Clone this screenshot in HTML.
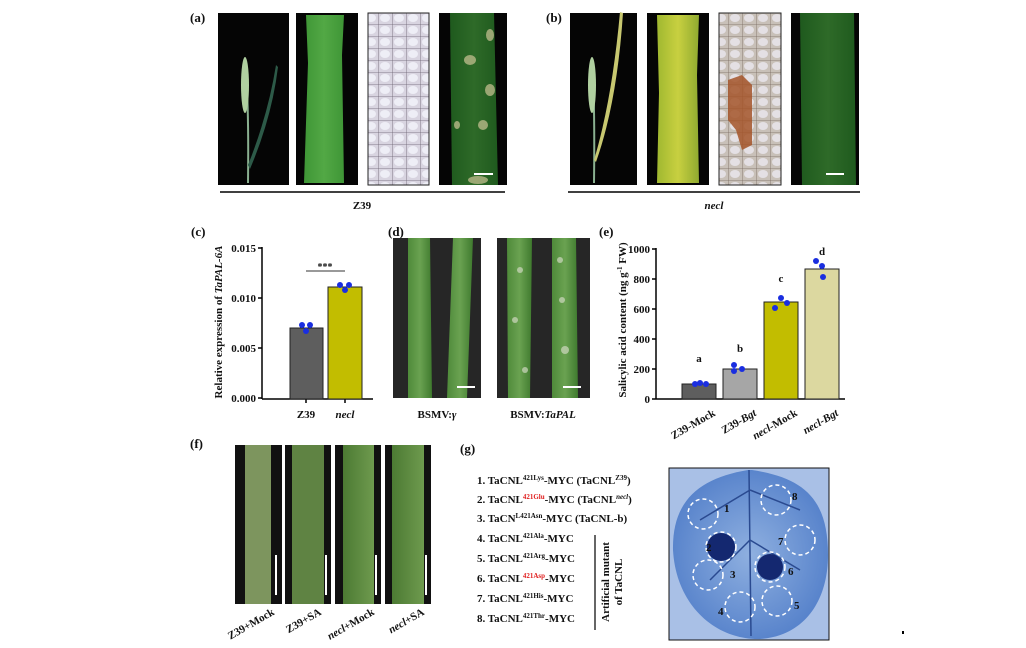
<!DOCTYPE html>
<html><head><meta charset="utf-8"><style>
html,body{margin:0;padding:0;background:#fff}
svg{display:block}
text{font-family:"Liberation Serif",serif;font-weight:bold;fill:#111}
</style></head><body>
<svg width="1026" height="648" viewBox="0 0 1026 648" xmlns="http://www.w3.org/2000/svg">
<defs>
<linearGradient id="leaf" x1="0" x2="1"><stop offset="0" stop-color="#4f8a3a"/><stop offset=".5" stop-color="#6aa251"/><stop offset="1" stop-color="#3f7a2e"/></linearGradient>
<linearGradient id="gleaf" x1="0" x2="1"><stop offset="0" stop-color="#3f9636"/><stop offset=".5" stop-color="#52a845"/><stop offset="1" stop-color="#3f9636"/></linearGradient>
<linearGradient id="yleaf" x1="0" x2="1"><stop offset="0" stop-color="#a0b830"/><stop offset=".5" stop-color="#c8d040"/><stop offset="1" stop-color="#90aa30"/></linearGradient>
<linearGradient id="dleaf" x1="0" x2="1"><stop offset="0" stop-color="#1f5a1e"/><stop offset=".5" stop-color="#2e6a28"/><stop offset="1" stop-color="#1f5a1e"/></linearGradient>
<linearGradient id="fleaf" x1="0" x2="1"><stop offset="0" stop-color="#4c7a33"/><stop offset="1" stop-color="#6e9a4e"/></linearGradient>
<radialGradient id="blue" cx=".5" cy=".5" r=".6"><stop offset="0" stop-color="#8fb0e0"/><stop offset="1" stop-color="#4f7cc8"/></radialGradient>
<pattern id="cells" width="14" height="12" patternUnits="userSpaceOnUse"><rect width="14" height="12" fill="#d8d4e0"/><ellipse cx="7" cy="6" rx="5" ry="4" fill="#eeeef6"/><path d="M0 0 H14 M0 0 V12" stroke="#6a6070" stroke-width=".8"/></pattern>
<pattern id="cells2" width="14" height="12" patternUnits="userSpaceOnUse"><rect width="14" height="12" fill="#c8c0b8"/><ellipse cx="7" cy="6" rx="5" ry="4" fill="#e4e0e4"/><path d="M0 0 H14 M0 0 V12" stroke="#7a6a60" stroke-width=".8"/></pattern>
</defs>

<!-- (a) -->
<text x="190" y="22" font-size="13">(a)</text>
<rect x="218" y="13" width="71" height="172" fill="#050505"/>
<path d="M244 60 q4 40 3 123 l2 0 q1 -83 -3 -123z" fill="#8ab090"/>
<ellipse cx="245" cy="85" rx="4" ry="28" fill="#b0d0a0"/>
<path d="M248 165 q20 -50 28 -100 l2 2 q-6 50 -28 102z" fill="#2d5a48"/>
<rect x="296" y="13" width="62" height="172" fill="#050505"/>
<path d="M306 15 h38 l-2 40 l2 128 h-40 l4 -120z" fill="url(#gleaf)"/>
<rect x="368" y="13" width="61" height="172" fill="url(#cells)" stroke="#222"/>
<rect x="439" y="13" width="68" height="172" fill="#050505"/>
<path d="M450 13 h44 l4 172 h-46z" fill="url(#dleaf)"/>
<g fill="#b8b888" opacity=".8"><ellipse cx="470" cy="60" rx="6" ry="5"/><ellipse cx="490" cy="90" rx="5" ry="6"/><ellipse cx="483" cy="125" rx="5" ry="5"/><ellipse cx="457" cy="125" rx="3" ry="4"/><ellipse cx="490" cy="35" rx="4" ry="6"/><ellipse cx="478" cy="180" rx="10" ry="4"/></g>
<rect x="474" y="173" width="19" height="2" fill="#fff"/>
<line x1="220" y1="192" x2="505" y2="192" stroke="#000" stroke-width="1.5"/>
<text x="362" y="209" font-size="11" text-anchor="middle">Z39</text>

<!-- (b) -->
<text x="546" y="22" font-size="13">(b)</text>
<rect x="570" y="13" width="67" height="172" fill="#050505"/>
<path d="M591 60 q3 40 2 123 l2 0 q1 -83 -2 -123z" fill="#8ab090"/>
<ellipse cx="592" cy="85" rx="4" ry="28" fill="#b0d0a0"/>
<path d="M594 160 q18 -60 26 -148 l3 1 q-6 90 -27 149z" fill="#c8c870"/>
<rect x="647" y="13" width="62" height="172" fill="#050505"/>
<path d="M657 15 h42 l-2 60 l2 108 h-42 l2 -90z" fill="url(#yleaf)"/>
<rect x="719" y="13" width="62" height="172" fill="url(#cells2)" stroke="#222"/>
<path d="M728 80 l14 -5 l10 10 l0 60 l-10 5 l-6 -20 l-8 -10z" fill="#a4552a" opacity=".85"/>
<rect x="791" y="13" width="68" height="172" fill="#050505"/>
<path d="M800 13 h54 l2 172 h-54z" fill="url(#dleaf)"/>
<rect x="826" y="173" width="18" height="2" fill="#fff"/>
<line x1="568" y1="192" x2="860" y2="192" stroke="#000" stroke-width="1.5"/>
<text x="714" y="209" font-size="11" text-anchor="middle" font-style="italic">necl</text>

<!-- (c) -->
<text x="191" y="236" font-size="13">(c)</text>
<g stroke="#000" stroke-width="1.5"><line x1="262" y1="247" x2="262" y2="399"/><line x1="262" y1="399" x2="373" y2="399"/>
<line x1="258" y1="248" x2="262" y2="248"/><line x1="258" y1="298" x2="262" y2="298"/><line x1="258" y1="348" x2="262" y2="348"/><line x1="258" y1="398" x2="262" y2="398"/>
<line x1="306" y1="399" x2="306" y2="403"/><line x1="345" y1="399" x2="345" y2="403"/></g>
<g font-size="11" text-anchor="end"><text x="256" y="252">0.015</text><text x="256" y="302">0.010</text><text x="256" y="352">0.005</text><text x="256" y="402">0.000</text></g>
<rect x="290" y="328" width="33" height="71" fill="#5e5e5e" stroke="#222"/>
<rect x="328" y="287" width="34" height="112" fill="#c2bd00" stroke="#222"/>
<line x1="306" y1="271" x2="345" y2="271" stroke="#333"/><text x="325" y="270" font-size="10" text-anchor="middle">***</text>
<g fill="#1a2ee0"><circle cx="302" cy="325" r="3"/><circle cx="310" cy="325" r="3"/><circle cx="306" cy="331" r="3"/><circle cx="340" cy="285" r="3"/><circle cx="349" cy="285" r="3"/><circle cx="345" cy="290" r="3"/></g>
<text x="306" y="418" font-size="11" text-anchor="middle">Z39</text><text x="345" y="418" font-size="11" text-anchor="middle" font-style="italic">necl</text>
<text transform="translate(222,322) rotate(-90)" font-size="11" text-anchor="middle">Relative expression of <tspan font-style="italic">TaPAL-6A</tspan></text>

<!-- (d) -->
<text x="388" y="236" font-size="13">(d)</text>
<rect x="393" y="238" width="88" height="160" fill="#262626"/>
<path d="M408 238 h22 l2 160 h-24z" fill="url(#leaf)"/><path d="M453 238 h20 l-6 160 h-20z" fill="url(#leaf)"/>
<rect x="497" y="238" width="93" height="160" fill="#262626"/>
<path d="M507 238 h25 l-2 160 h-22z" fill="url(#leaf)"/><path d="M552 238 h24 l2 160 h-26z" fill="url(#leaf)"/>
<g fill="#cfd8c0" opacity=".7"><circle cx="520" cy="270" r="3"/><circle cx="515" cy="320" r="3"/><circle cx="562" cy="300" r="3"/><circle cx="565" cy="350" r="4"/><circle cx="560" cy="260" r="3"/><circle cx="525" cy="370" r="3"/></g>
<rect x="457" y="386" width="18" height="2" fill="#fff"/><rect x="563" y="386" width="18" height="2" fill="#fff"/>
<text x="437" y="418" font-size="11" text-anchor="middle">BSMV:<tspan font-style="italic">γ</tspan></text>
<text x="543" y="418" font-size="11" text-anchor="middle">BSMV:<tspan font-style="italic">TaPAL</tspan></text>

<!-- (e) -->
<text x="599" y="236" font-size="13">(e)</text>
<g stroke="#000" stroke-width="1.5"><line x1="656" y1="248" x2="656" y2="399"/><line x1="656" y1="399" x2="845" y2="399"/>
<line x1="652" y1="249" x2="656" y2="249"/><line x1="652" y1="279" x2="656" y2="279"/><line x1="652" y1="309" x2="656" y2="309"/><line x1="652" y1="339" x2="656" y2="339"/><line x1="652" y1="369" x2="656" y2="369"/><line x1="652" y1="399" x2="656" y2="399"/></g>
<g font-size="11" text-anchor="end"><text x="650" y="253">1000</text><text x="650" y="283">800</text><text x="650" y="313">600</text><text x="650" y="343">400</text><text x="650" y="373">200</text><text x="650" y="403">0</text></g>
<rect x="682" y="384" width="34" height="15" fill="#5e5e5e" stroke="#222"/>
<rect x="723" y="369" width="34" height="30" fill="#a6a6a6" stroke="#222"/>
<rect x="764" y="302" width="34" height="97" fill="#c2bd00" stroke="#222"/>
<rect x="805" y="269" width="34" height="130" fill="#dcd8a0" stroke="#222"/>
<g fill="#1a2ee0"><circle cx="695" cy="384" r="3"/><circle cx="700" cy="383" r="3"/><circle cx="706" cy="384" r="3"/><circle cx="734" cy="365" r="3"/><circle cx="734" cy="371" r="3"/><circle cx="742" cy="369" r="3"/><circle cx="775" cy="308" r="3"/><circle cx="781" cy="298" r="3"/><circle cx="787" cy="303" r="3"/><circle cx="816" cy="261" r="3"/><circle cx="822" cy="266" r="3"/><circle cx="823" cy="277" r="3"/></g>
<g font-size="11" text-anchor="middle"><text x="699" y="362">a</text><text x="740" y="352">b</text><text x="781" y="282">c</text><text x="822" y="255">d</text></g>
<g font-size="11" text-anchor="end"><text transform="translate(716,415) rotate(-30)">Z39-Mock</text><text transform="translate(757,415) rotate(-30)">Z39-<tspan font-style="italic">Bgt</tspan></text><text transform="translate(798,415) rotate(-30)"><tspan font-style="italic">necl</tspan>-Mock</text><text transform="translate(839,415) rotate(-30)"><tspan font-style="italic">necl</tspan>-<tspan font-style="italic">Bgt</tspan></text></g>
<text transform="translate(626,320) rotate(-90)" font-size="11" text-anchor="middle">Salicylic acid content (ng g<tspan dy="-4" font-size="7">-1</tspan><tspan dy="4"> FW)</tspan></text>

<!-- (f) -->
<text x="190" y="448" font-size="13">(f)</text>
<g>
<rect x="235" y="445" width="47" height="159" fill="#111"/><rect x="245" y="445" width="26" height="159" fill="#7d955e"/>
<rect x="285" y="445" width="46" height="159" fill="#111"/><rect x="292" y="445" width="32" height="159" fill="#5f8343"/>
<rect x="335" y="445" width="46" height="159" fill="#111"/><rect x="343" y="445" width="31" height="159" fill="url(#fleaf)"/>
<rect x="385" y="445" width="46" height="159" fill="#111"/><rect x="392" y="445" width="32" height="159" fill="url(#fleaf)"/>
<g fill="#fff"><rect x="275" y="555" width="2" height="40"/><rect x="325" y="555" width="2" height="40"/><rect x="375" y="555" width="2" height="40"/><rect x="425" y="555" width="2" height="40"/></g>
</g>
<g font-size="11" text-anchor="end"><text transform="translate(275,614) rotate(-30)">Z39+Mock</text><text transform="translate(322,614) rotate(-30)">Z39+SA</text><text transform="translate(375,614) rotate(-30)"><tspan font-style="italic">necl</tspan>+Mock</text><text transform="translate(425,614) rotate(-30)"><tspan font-style="italic">necl</tspan>+SA</text></g>

<!-- (g) -->
<text x="460" y="453" font-size="13">(g)</text>
<g font-size="11">
<text x="477" y="484">1. TaCNL<tspan dy="-4" font-size="7">421Lys</tspan><tspan dy="4">-MYC (TaCNL</tspan><tspan dy="-4" font-size="7">Z39</tspan><tspan dy="4">)</tspan></text>
<text x="477" y="503">2. TaCNL<tspan dy="-4" font-size="7" fill="#e02020">421Glu</tspan><tspan dy="4">-MYC (TaCNL</tspan><tspan dy="-4" font-size="7" font-style="italic">necl</tspan><tspan dy="4">)</tspan></text>
<text x="477" y="522">3. TaCN<tspan dy="-4" font-size="7">L421Asn</tspan><tspan dy="4">-MYC (TaCNL-b)</tspan></text>
<text x="477" y="542">4. TaCNL<tspan dy="-4" font-size="7">421Ala</tspan><tspan dy="4">-MYC</tspan></text>
<text x="477" y="562">5. TaCNL<tspan dy="-4" font-size="7">421Arg</tspan><tspan dy="4">-MYC</tspan></text>
<text x="477" y="582">6. TaCNL<tspan dy="-4" font-size="7" fill="#e02020">421Asp</tspan><tspan dy="4">-MYC</tspan></text>
<text x="477" y="602">7. TaCNL<tspan dy="-4" font-size="7">421His</tspan><tspan dy="4">-MYC</tspan></text>
<text x="477" y="622">8. TaCNL<tspan dy="-4" font-size="7">421Thr</tspan><tspan dy="4">-MYC</tspan></text>
</g>
<line x1="595" y1="535" x2="595" y2="630" stroke="#000" stroke-width="1.2"/>
<text transform="translate(609,582) rotate(-90)" font-size="11" text-anchor="middle">Artificial mutant</text>
<text transform="translate(622,582) rotate(-90)" font-size="11" text-anchor="middle">of TaCNL</text>
<rect x="669" y="468" width="160" height="172" fill="#a9c0e6" stroke="#111"/>
<path d="M748 470 C700 478 672 500 673 550 C676 605 715 640 760 639 C805 636 828 600 828 555 C828 500 805 478 752 470z" fill="url(#blue)"/>
<path d="M749 470 L751 636 M750 490 L700 520 M750 490 L800 510 M750 540 L710 580 M750 540 L800 570" stroke="#2a4a90" stroke-width="1.5" fill="none"/>
<circle cx="721" cy="547" r="14" fill="#142870"/><circle cx="770" cy="567" r="13" fill="#142870"/>
<g fill="none" stroke="#fff" stroke-width="1.5" stroke-dasharray="4 3">
<circle cx="703" cy="514" r="15"/><circle cx="721" cy="547" r="15"/><circle cx="708" cy="575" r="15"/><circle cx="740" cy="607" r="15"/><circle cx="777" cy="601" r="15"/><circle cx="770" cy="567" r="15"/><circle cx="800" cy="540" r="15"/><circle cx="776" cy="500" r="15"/></g>
<g font-size="11"><text x="724" y="512">1</text><text x="706" y="551">2</text><text x="730" y="578">3</text><text x="718" y="615">4</text><text x="794" y="609">5</text><text x="788" y="575">6</text><text x="778" y="545">7</text><text x="792" y="500">8</text></g>
<rect x="902" y="631" width="2" height="3" fill="#000"/>
</svg>
</body></html>
